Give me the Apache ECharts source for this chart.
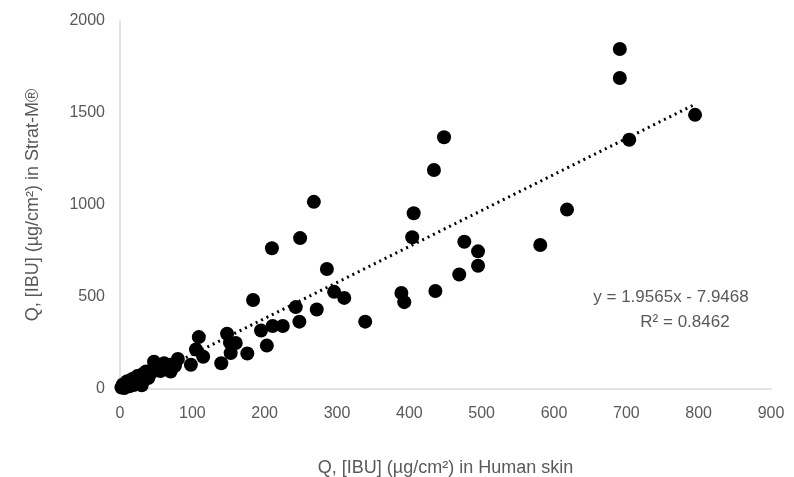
<!DOCTYPE html>
<html>
<head>
<meta charset="utf-8">
<script src="https://cdn.jsdelivr.net/npm/echarts@6/dist/echarts.min.js"></script>
<style>
  html, body { margin: 0; padding: 0; background: #fff; }
  #chart { width: 794px; height: 477px; }
</style>
</head>
<body>
<div id="chart"></div>
<script>
// Q in human skin (x) vs Q in Strat-M (y), µg/cm²
const humanSkin = [
  691, 691, 795, 704, 618, 581,
  448, 434, 406, 404, 476, 495, 495, 469, 389, 393, 436, 339,
  268, 249, 210, 286, 184, 296, 310, 243, 272, 248, 225, 211, 195, 203,
  176, 153, 160, 148, 152, 140, 109, 105, 115, 98, 80, 70, 61, 47, 45,
  2, 4, 6, 9, 10, 13, 15, 17, 19, 21, 23, 26, 28, 31, 33, 36, 39, 41, 43,
  52, 56, 60, 65, 69, 76, 30, 24
]
const stratM = [
  1848, 1690, 1490, 1355, 975, 783,
  1368, 1190, 955, 825, 800, 748, 670, 622, 522, 472, 533, 366,
  1017, 820, 765, 652, 484, 528, 495, 445, 432, 366, 342, 342, 318, 236,
  193, 195, 250, 300, 252, 140, 282, 215, 175, 132, 163, 95, 140, 148, 105,
  8, 25, 5, 18, 42, 15, 30, 55, 22, 48, 30, 62, 40, 80, 52, 95, 60, 78, 88,
  112, 98, 122, 106, 132, 126, 20, 70
]
// linear trendline shown in the chart
const slope = 1.9565
const intercept = -7.9468
const rSquared = 0.8462

const xTicks = { min: 0, max: 900, interval: 100 }
const yTicks = { min: 0, max: 2000, interval: 500 }

const points = humanSkin.map((x, i) => [x, stratM[i]])
const xMin = Math.min(...humanSkin)
const xMax = Math.max(...humanSkin)
const trend = [xMin, xMax].map((x) => [x, slope * x + intercept])

const font = "'Liberation Sans', sans-serif"
const grey = '#595959'

const chart = echarts.init(document.getElementById('chart'))
chart.setOption({
  backgroundColor: '#fff',
  animation: false,
  grid: { left: 120, right: 23, top: 21, bottom: 88, outerBoundsMode: 'none' },
  xAxis: {
    type: 'value',
    min: xTicks.min,
    max: xTicks.max,
    interval: xTicks.interval,
    name: 'Q, [IBU] (µg/cm²) in Human skin',
    nameLocation: 'middle',
    nameGap: 70,
    nameTextStyle: { color: grey, fontSize: 18, fontFamily: font },
    axisLine: { show: true, lineStyle: { color: '#d9d9d9', width: 1.5 } },
    axisTick: { show: false },
    splitLine: { show: false },
    axisLabel: { color: grey, fontSize: 16, fontFamily: font, margin: 17, formatter: (v) => String(v) }
  },
  yAxis: {
    type: 'value',
    min: yTicks.min,
    max: yTicks.max,
    interval: yTicks.interval,
    name: 'Q, [IBU] (µg/cm²) in Strat-M®',
    nameLocation: 'middle',
    nameGap: 78,
    nameTextStyle: { color: grey, fontSize: 18, fontFamily: font },
    axisLine: { show: true, lineStyle: { color: '#d9d9d9', width: 1.5 } },
    axisTick: { show: false },
    splitLine: { show: false },
    axisLabel: { color: grey, fontSize: 16, fontFamily: font, margin: 15, formatter: (v) => String(v) }
  },
  graphic: [
    {
      type: 'text', x: 671, y: 297,
      style: { text: 'y = 1.9565x - 7.9468', fill: grey, font: '17px ' + font, align: 'center', verticalAlign: 'middle' }
    },
    {
      type: 'text', x: 685, y: 322,
      style: { text: 'R² = ' + rSquared.toFixed(4), fill: grey, font: '17px ' + font, align: 'center', verticalAlign: 'middle' }
    }
  ],
  series: [
    {
      type: 'line',
      data: trend,
      symbol: 'none',
      z: 3,
      lineStyle: { color: '#000', width: 3, type: [2, 4] }
    },
    {
      type: 'scatter',
      data: points,
      symbolSize: 14,
      z: 2,
      itemStyle: { color: '#000', opacity: 1 }
    }
  ]
})
</script>
</body>
</html>
